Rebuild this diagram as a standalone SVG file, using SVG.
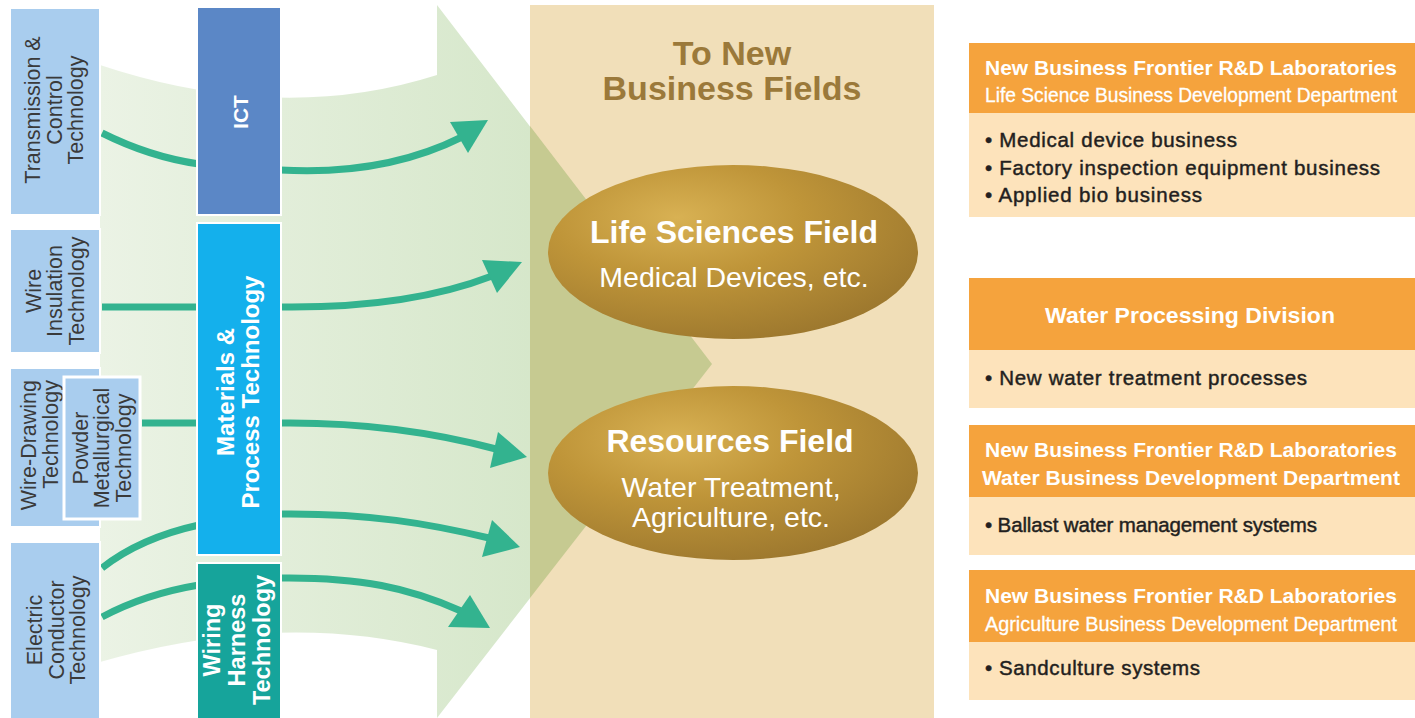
<svg xmlns="http://www.w3.org/2000/svg" width="1415" height="718" viewBox="0 0 1415 718">
<defs>
<linearGradient id="band" x1="100" y1="0" x2="712" y2="0" gradientUnits="userSpaceOnUse">
<stop offset="0" stop-color="#ebf3e5"/>
<stop offset="1" stop-color="#cde2bf"/>
</linearGradient>
<radialGradient id="gold" cx="0.35" cy="0.3" r="0.75">
<stop offset="0" stop-color="#d8b153"/>
<stop offset="0.45" stop-color="#bf9539"/>
<stop offset="1" stop-color="#9d782e"/>
</radialGradient>
<style>
.lbox{fill:#a9cdee;stroke:#fff;stroke-width:2}
.ltxt{font-family:"Liberation Sans",Arial,sans-serif;font-size:21.5px;fill:#3a3a3a;text-anchor:middle}
.mtxt{font-family:"Liberation Sans",Arial,sans-serif;font-weight:bold;fill:#fff;text-anchor:middle}
.conn{fill:none;stroke:#33b38f;stroke-width:7}
.head{fill:#33b38f}
.title{font-family:"Liberation Sans",Arial,sans-serif;font-weight:bold;font-size:34px;fill:#9b793a;text-anchor:middle}
.eb{font-family:"Liberation Sans",Arial,sans-serif;font-weight:bold;font-size:32px;fill:#fff;text-anchor:middle}
.er{font-family:"Liberation Sans",Arial,sans-serif;font-size:28.5px;fill:#fff;text-anchor:middle}
.hdr{fill:#f5a33d}
.bdy{fill:#fde3bb}
.h1{font-family:"Liberation Sans",Arial,sans-serif;font-weight:bold;font-size:20.5px;fill:#fff;text-anchor:middle}
.h2{font-family:"Liberation Sans",Arial,sans-serif;font-size:20px;fill:#fff;stroke:#fff;stroke-width:0.3;text-anchor:middle}
.bul{font-family:"Liberation Sans",Arial,sans-serif;font-size:20.5px;fill:#231f20;stroke:#231f20;stroke-width:0.45}
</style>
</defs>
<rect width="1415" height="718" fill="#fff"/>
<g id="band-arrow">
<path d="M100,65 Q280,125 437,75 L437,5 L712,364 L437,718 L437,650 Q280,610 100,662 Z" fill="url(#band)"/>
</g>
<g id="panel">
<rect x="530" y="5" width="404" height="713" fill="#f1dfb9"/>
<polygon points="530,126 712,364 530,598" fill="#c6ca91"/>
<text class="title" x="732" y="65">To New</text>
<text class="title" x="732" y="100">Business Fields</text>
</g>
<g id="life-sciences">
<ellipse cx="733" cy="252" rx="185" ry="87" fill="url(#gold)"/>
<text class="eb" x="734" y="243">Life Sciences Field</text>
<text class="er" x="734" y="287">Medical Devices, etc.</text>
</g>
<g id="resources">
<ellipse cx="733" cy="473" rx="185" ry="87" fill="url(#gold)"/>
<text class="eb" x="730" y="452">Resources Field</text>
<text class="er" x="731" y="497">Water Treatment,</text>
<text class="er" x="731" y="527">Agriculture, etc.</text>
</g>
<g id="connectors">
<path class="conn" d="M102,133 Q150,157 199,164"/>
<path class="conn" d="M102,307 L199,307"/>
<path class="conn" d="M142,423 L199,423"/>
<path class="conn" d="M102,568 Q140,538 199,525"/>
<path class="conn" d="M102,617 Q145,594 199,585"/>
<path class="conn" d="M280,170 C350,174 410,163 462,137"/>
<polygon class="head" points="450,122 488,120 468,153"/>
<path class="conn" d="M280,307 C360,308 430,300 492,276"/>
<polygon class="head" points="482,260 522,262 497,293"/>
<path class="conn" d="M280,423 C370,422 440,434 496,449"/>
<polygon class="head" points="498,432 527,457 490,468"/>
<path class="conn" d="M280,514 C370,513 430,524 489,538"/>
<polygon class="head" points="492,520 520,547 482,557"/>
<path class="conn" d="M280,578 C360,577 410,588 461,611"/>
<polygon class="head" points="470,595 490,628 448,627"/>
</g>
<g id="transmission">
<rect class="lbox" x="10" y="8" width="90" height="207"/>
<text class="ltxt" transform="translate(40,110) rotate(-90)">Transmission &amp;</text>
<text class="ltxt" transform="translate(62,110) rotate(-90)">Control</text>
<text class="ltxt" transform="translate(83,110) rotate(-90)">Technology</text>
</g>
<g id="wire-insulation">
<rect class="lbox" x="10" y="229" width="90" height="124"/>
<text class="ltxt" transform="translate(41,291) rotate(-90)">Wire</text>
<text class="ltxt" transform="translate(62,291) rotate(-90)">Insulation</text>
<text class="ltxt" transform="translate(84,291) rotate(-90)">Technology</text>
</g>
<g id="wire-drawing">
<rect class="lbox" x="10" y="368" width="90" height="159"/>
<text class="ltxt" style="text-anchor:end" transform="translate(36,380) rotate(-90)">Wire-Drawing</text>
<text class="ltxt" style="text-anchor:end" transform="translate(57.5,380) rotate(-90)">Technology</text>
</g>
<g id="powder">
<rect x="64" y="377" width="76" height="142" fill="#a9cdee" stroke="#fff" stroke-width="3"/>
<text class="ltxt" transform="translate(87.5,448) rotate(-90)">Powder</text>
<text class="ltxt" transform="translate(109,448) rotate(-90)">Metallurgical</text>
<text class="ltxt" transform="translate(131,448) rotate(-90)">Technology</text>
</g>
<g id="electric-conductor">
<rect class="lbox" x="10" y="542" width="90" height="180"/>
<text class="ltxt" transform="translate(42,630) rotate(-90)">Electric</text>
<text class="ltxt" transform="translate(64,630) rotate(-90)">Conductor</text>
<text class="ltxt" transform="translate(85,630) rotate(-90)">Technology</text>
</g>
<g id="ict">
<rect x="197" y="7" width="84" height="208" fill="#5b87c6" stroke="#fff" stroke-width="2"/>
<text class="mtxt" style="font-size:21px" transform="translate(248,112) rotate(-90)">ICT</text>
</g>
<g id="materials">
<rect x="197" y="223" width="84" height="332" fill="#14b0ec" stroke="#fff" stroke-width="2"/>
<text class="mtxt" style="font-size:24px" transform="translate(234,392) rotate(-90)">Materials &amp;</text>
<text class="mtxt" style="font-size:24px" transform="translate(259,392) rotate(-90)">Process Technology</text>
</g>
<g id="wiring-harness">
<rect x="197" y="563" width="84" height="160" fill="#16a49b" stroke="#fff" stroke-width="2"/>
<text class="mtxt" style="font-size:23.5px" transform="translate(220,640) rotate(-90)">Wiring</text>
<text class="mtxt" style="font-size:23.5px" transform="translate(245,640) rotate(-90)">Harness</text>
<text class="mtxt" style="font-size:23.5px" transform="translate(270,640) rotate(-90)">Technology</text>
</g>
<g id="life-science-dept">
<rect class="hdr" x="969" y="43" width="446" height="70"/>
<rect class="bdy" x="969" y="113" width="446" height="104"/>
<text class="h1" x="1191" y="75" textLength="412" lengthAdjust="spacingAndGlyphs">New Business Frontier R&amp;D Laboratories</text>
<text class="h2" x="1191" y="102" textLength="412" lengthAdjust="spacingAndGlyphs">Life Science Business Development Department</text>
<text class="bul" x="985" y="147" textLength="252">• Medical device business</text>
<text class="bul" x="985" y="175" textLength="395">• Factory inspection equipment business</text>
<text class="bul" x="985" y="202" textLength="217">• Applied bio business</text>
</g>
<g id="water-processing">
<rect class="hdr" x="969" y="278" width="446" height="72"/>
<rect class="bdy" x="969" y="350" width="446" height="58"/>
<text class="h1" style="font-size:22.5px" x="1190" y="323" textLength="290" lengthAdjust="spacingAndGlyphs">Water Processing Division</text>
<text class="bul" x="985" y="385" textLength="322">• New water treatment processes</text>
</g>
<g id="water-business-dept">
<rect class="hdr" x="969" y="425" width="446" height="72"/>
<rect class="bdy" x="969" y="497" width="446" height="58"/>
<text class="h1" x="1191" y="457" textLength="412" lengthAdjust="spacingAndGlyphs">New Business Frontier R&amp;D Laboratories</text>
<text class="h1" x="1191" y="485" textLength="418" lengthAdjust="spacingAndGlyphs">Water Business Development Department</text>
<text class="bul" x="985" y="532" textLength="332">• Ballast water management systems</text>
</g>
<g id="agriculture-dept">
<rect class="hdr" x="969" y="570" width="446" height="72"/>
<rect class="bdy" x="969" y="642" width="446" height="58"/>
<text class="h1" x="1191" y="603" textLength="412" lengthAdjust="spacingAndGlyphs">New Business Frontier R&amp;D Laboratories</text>
<text class="h2" x="1191" y="631" textLength="412" lengthAdjust="spacingAndGlyphs">Agriculture Business Development Department</text>
<text class="bul" x="985" y="675" textLength="215">• Sandculture systems</text>
</g>
</svg>
